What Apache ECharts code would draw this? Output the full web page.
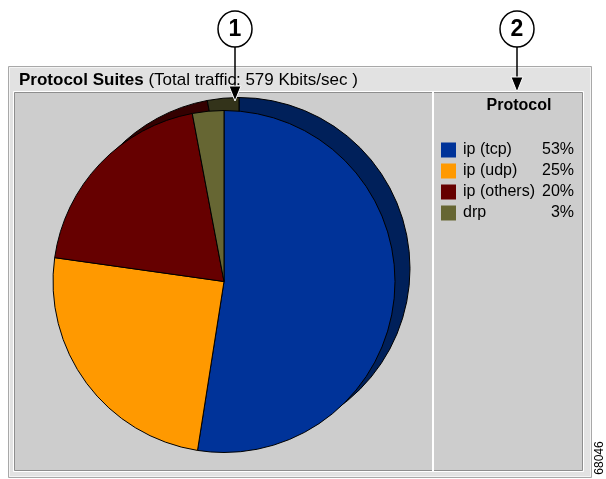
<!DOCTYPE html>
<html>
<head>
<meta charset="utf-8">
<script src="https://cdn.jsdelivr.net/npm/echarts@6/dist/echarts.min.js"></script>
<style>
html,body{margin:0;padding:0;background:#fff;}
#c{width:606px;height:479px;}
</style>
</head>
<body>
<div id="c"></div>
<script>
// ---- data ----
const categories = ['ip (tcp)', 'ip (udp)', 'ip (others)', 'drp'];
const shares = [53, 25, 20, 3];
const titleMain = 'Protocol Suites';
const titleSub = ' (Total traffic: 579 Kbits/sec )';
const legendTitle = 'Protocol';
const callouts = ['1', '2'];
const figureId = '68046';

// ---- styles ----
const faceColors = ['#003399', '#ff9900', '#660000', '#666633'];
const sideColors = ['#00205a', '#7a4a00', '#340000', '#33331a'];
const FONT = '"Liberation Sans", Arial, sans-serif';

const chart = echarts.init(document.getElementById('c'), null, {renderer: 'canvas'});

const shareOf = {};
categories.forEach((c, i) => shareOf[c] = shares[i]);

function pieData(colors) {
  return categories.map((c, i) => ({
    name: c, value: shares[i],
    itemStyle: {color: colors[i], borderColor: '#000', borderWidth: 1}
  }));
}

function callout(label, cx, cy, tipY) {
  return [
    {type: 'line', z: 100, shape: {x1: cx, y1: cy + 18, x2: cx, y2: tipY - 12},
     style: {stroke: '#000', lineWidth: 1.5}},
    {type: 'polygon', z: 101, shape: {points: [[cx - 6, tipY - 15], [cx + 6, tipY - 15], [cx, tipY]]},
     style: {fill: '#000', stroke: '#fff', lineWidth: 1}},
    {type: 'ellipse', z: 100, shape: {cx: cx, cy: cy, rx: 17, ry: 18},
     style: {fill: '#fff', stroke: '#000', lineWidth: 1.5}},
    {type: 'text', z: 102, x: cx, y: cy + 1,
     style: {text: label, font: 'bold 23px ' + FONT, fill: '#000', align: 'center', verticalAlign: 'middle'}}
  ];
}

const option = {
  animation: false,
  backgroundColor: '#ffffff',
  graphic: [
    // outer panel
    {type: 'rect', z: -20, shape: {x: 8.5, y: 66.5, width: 583, height: 411},
     style: {fill: '#e2e2e2', stroke: '#a8a8a8', lineWidth: 1}},
    {type: 'rect', z: -19, shape: {x: 9.5, y: 67.5, width: 581, height: 409},
     style: {fill: 'none', stroke: '#f4f4f4', lineWidth: 1}},
    // chart box
    {type: 'rect', z: -18, shape: {x: 14.5, y: 92.5, width: 418, height: 378},
     style: {fill: '#cdcdcd', stroke: '#8e8e8e', lineWidth: 1}},
    {type: 'rect', z: -17, shape: {x: 13.5, y: 91.5, width: 420, height: 380},
     style: {fill: 'none', stroke: '#ffffff', lineWidth: 1}},
    // legend box
    {type: 'rect', z: -18, shape: {x: 433.5, y: 92.5, width: 149, height: 378},
     style: {fill: '#cdcdcd', stroke: '#8e8e8e', lineWidth: 1}},
    {type: 'rect', z: -17, shape: {x: 432.5, y: 91.5, width: 151, height: 380},
     style: {fill: 'none', stroke: '#ffffff', lineWidth: 1}},
    // title
    {type: 'text', z: 5, x: 19, y: 80,
     style: {text: '{b|' + titleMain + '}{n|' + titleSub + '}', verticalAlign: 'middle',
       rich: {b: {font: 'bold 17px ' + FONT, fill: '#000'}, n: {font: '17px ' + FONT, fill: '#000'}}}},
    // legend header
    {type: 'text', z: 5, x: 519, y: 106,
     style: {text: legendTitle, font: 'bold 16px ' + FONT, fill: '#000', align: 'center', verticalAlign: 'middle'}},
    // figure id
    {type: 'text', z: 5, x: 600, y: 458, rotation: Math.PI / 2,
     style: {text: figureId, font: '12px ' + FONT, fill: '#000', align: 'center', verticalAlign: 'middle'}}
  ].concat(callout(callouts[0], 235, 29, 101)).concat(callout(callouts[1], 517, 29, 92)),
  legend: {
    orient: 'vertical',
    left: 436, top: 137,
    icon: 'rect', itemWidth: 15, itemHeight: 15, itemGap: 5,
    selectedMode: false,
    data: categories.map((c, i) => ({name: c, itemStyle: {color: faceColors[i], borderWidth: 0}})),
    itemStyle: {borderWidth: 0},
    textStyle: {
      fontFamily: FONT, fontSize: 16, color: '#000', lineHeight: 15,
      rich: {
        n: {fontFamily: FONT, fontSize: 16, width: 72, lineHeight: 15, padding: [0, 0, 0, 2], color: '#000'},
        p: {fontFamily: FONT, fontSize: 16, width: 39, lineHeight: 15, align: 'right', color: '#000'}
      }
    },
    formatter: name => '{n|' + name + '}{p|' + shareOf[name] + '%}'
  },
  series: [
    {
      type: 'pie', name: 'side', silent: true, z: 1,
      center: [239, 268.5], radius: 171,
      startAngle: 90, clockwise: true,
      label: {show: false}, labelLine: {show: false},
      data: pieData(sideColors),
      legendHoverLink: false
    },
    {
      type: 'pie', name: 'face', silent: true, z: 2,
      center: [224, 281.5], radius: 171,
      startAngle: 90, clockwise: true,
      label: {show: false}, labelLine: {show: false},
      data: pieData(faceColors)
    }
  ]
};
chart.setOption(option);
</script>
</body>
</html>
